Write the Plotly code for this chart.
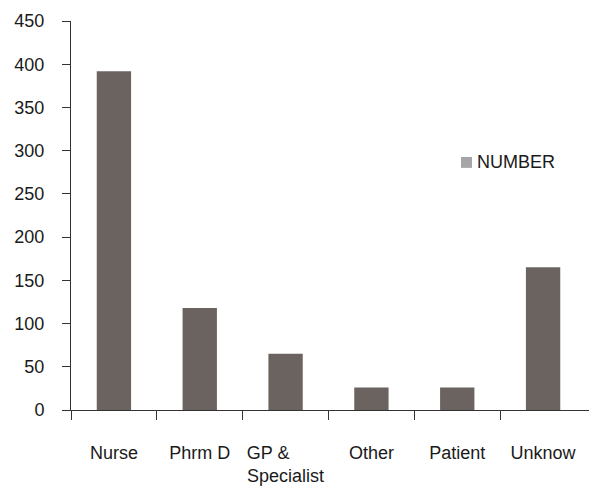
import plotly.graph_objects as go

NB = "\u00a0"
categories = ["Nurse", "Phrm D", "GP &" + NB * 7 + "<br>Specialist", "Other", "Patient", "Unknow"]
values = [392, 118, 65, 26, 26, 165]
series_name = "NUMBER"
y_ticks = [0, 50, 100, 150, 200, 250, 300, 350, 400, 450]

FONT = "Liberation Sans, Arial, sans-serif"
TXT = "#1a1a1a"
n = len(categories)
xs = list(range(n))
boundaries = [i - 0.5 for i in range(n)]
xr = [-0.5, n - 0.5 + 11 / 85.8]

# page body has an 8px margin; figure is sized so the plot lands where the reference has it
W, H = 589, 478

fig = go.Figure()
fig.add_trace(go.Bar(x=xs, y=values, marker=dict(color="#6b6360", line=dict(width=0)),
                     showlegend=False, name=series_name, width=0.4))
# helper axis for boundary ticks
fig.add_trace(go.Scatter(x=[None], y=[None], xaxis="x2", showlegend=False))

L, T, B, R = 63, 13, 73, 0
pw, ph = W - L - R, H - T - B


def px(xabs):
    return (xabs - 8 - L) / pw


def py(yabs):
    return (H - B - (yabs - 8)) / ph


fig.update_layout(
    width=W, height=H,
    margin=dict(l=L, r=R, t=T, b=B),
    paper_bgcolor="white", plot_bgcolor="white",
    font=dict(family=FONT, size=18, color=TXT),
    xaxis=dict(range=xr, tickvals=xs, ticktext=categories, ticks="",
               showline=True, linecolor="#333", linewidth=1, showgrid=False,
               zeroline=False, ticklabelstandoff=26, fixedrange=True),
    xaxis2=dict(range=xr, overlaying="x", side="bottom", tickvals=boundaries,
                showticklabels=False, ticks="outside", ticklen=9, tickcolor="#333",
                showline=False, showgrid=False, zeroline=False, fixedrange=True),
    yaxis=dict(range=[0, 450], tickvals=y_ticks, ticks="outside", ticklen=8,
               tickcolor="#333", showline=True, linecolor="#333", linewidth=1,
               showgrid=False, zeroline=False, ticklabelstandoff=14, fixedrange=True),
    bargap=0.6,
    showlegend=False,
    shapes=[dict(type="rect", xref="paper", yref="paper",
                 x0=px(461), x1=px(472), y0=py(169), y1=py(158),
                 fillcolor="#a6a6a9", line=dict(width=0))],
    annotations=[dict(text=series_name, xref="paper", yref="paper",
                      x=px(475), y=py(163.5), xanchor="left", yanchor="middle",
                      showarrow=False, font=dict(size=18, family=FONT, color=TXT))],
)

fig.write_html("out.html")
